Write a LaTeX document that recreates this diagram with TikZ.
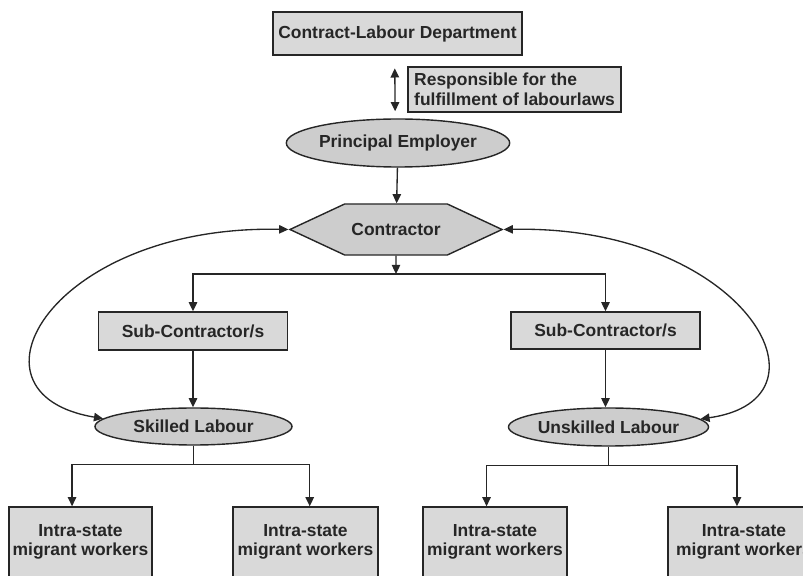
\documentclass[tikz,border=0pt]{standalone}
\usepackage{fontspec}
\setmainfont{Liberation Sans}
\usetikzlibrary{shapes,shapes.symbols,arrows.meta,calc,positioning}
\definecolor{boxfill}{HTML}{D9D9D9}
\definecolor{ovalfill}{HTML}{CDCDCD}
\definecolor{edge}{HTML}{262626}

\begin{document}
\begin{tikzpicture}[x=0.025cm,y=-0.025cm,font=\fontsize{12.4}{14}\selectfont\bfseries,text=edge]
		\tikzstyle{block}=[draw=edge,fill=boxfill,line width=1pt,shape=rectangle,inner sep=2pt]
		\tikzstyle{oval}=[draw=edge,fill=ovalfill,line width=1pt,shape=ellipse,inner sep=0pt]
		\tikzstyle{arr}=[draw=edge,line width=0.95pt,-{Triangle[length=6.5pt,width=6pt]}]
		\tikzstyle{dbl}=[draw=edge,line width=0.95pt,{Triangle[length=6.5pt,width=6pt]}-{Triangle[length=6.5pt,width=6pt]}]

		\useasboundingbox (0,0) rectangle (803,576);
		\clip (0,0) rectangle (803,576);

		\node[block,minimum width=6.225cm,minimum height=1.075cm](dept) at (397.5,33.5){Contract-Labour Department};
		\node[block,minimum width=5.325cm,minimum height=1.125cm,align=left](resp) at (514.5,89.5){Responsible for the\\fulfillment of labourlaws};
		\node[oval,minimum width=5cm,minimum height=1.2cm](pe) at (398,143){Principal Employer};

		\node[draw=edge,fill=ovalfill,line width=1pt,signal,signal to=east and west,signal pointer angle=50,
			minimum width=5.3cm,minimum height=1.275cm,inner sep=0pt](con) at (396,229.5){Contractor};
		\coordinate (split) at (396,274);

		\node[block,minimum width=4.725cm,minimum height=0.95cm](sub1) at (193,331){Sub-Contractor/s};
		\node[block,minimum width=4.725cm,minimum height=0.925cm](sub2) at (605.5,330.5){Sub-Contractor/s};

		\node[oval,minimum width=4.925cm,minimum height=0.925cm](sk) at (193.5,426.5){Skilled Labour};
		\node[oval,minimum width=4.875cm,minimum height=0.95cm](usk) at (608.5,427){Unskilled Labour};

		\node[block,minimum width=3.575cm,minimum height=1.75cm,align=center](w1) at (80.5,542){Intra-state\\migrant workers};
		\node[block,minimum width=3.625cm,minimum height=1.75cm,align=center](w2) at (305.5,542){Intra-state\\migrant workers};
		\node[block,minimum width=3.6cm,minimum height=1.75cm,align=center](w3) at (495,542){Intra-state\\migrant workers};
		\node[block,minimum width=3.8cm,minimum height=1.75cm,align=center](w4) at (744,542){Intra-state\\migrant workers};

		\draw[dbl,shorten <=9pt,shorten >=5pt] ([xshift=-2pt]dept.south) -- ([xshift=-2pt]pe.north);
		\draw[arr] (pe) -- (con);
		\draw[arr] (con) -- (split);
		\draw[arr] (split) -| (sub1);
		\draw[arr] (split) -| (sub2);
		\draw[arr] (sub1) -- (sub1 |- sk.north);
		\draw[arr] (sub2) -- (sub2 |- usk.north);

		\draw[dbl] (con.west) .. controls +(-235,-5) and +(-150,-25) .. (sk.175);
		\draw[dbl] (con.east) .. controls +(238,-5) and +(143,-20) .. (usk.5);

		\draw[arr] (sk.south) -- ++(0,19) -| ([xshift=-6pt]w1.north);
		\draw[arr] (sk.south) ++(0,19) -| ([xshift=3pt]w2.north);
		\draw[arr] (usk.south) -- ++(0,19) -| ([xshift=-6pt]w3.north);
		\draw[arr] (usk.south) ++(0,19) -| ([xshift=-5pt]w4.north);
	\end{tikzpicture}
\end{document}
